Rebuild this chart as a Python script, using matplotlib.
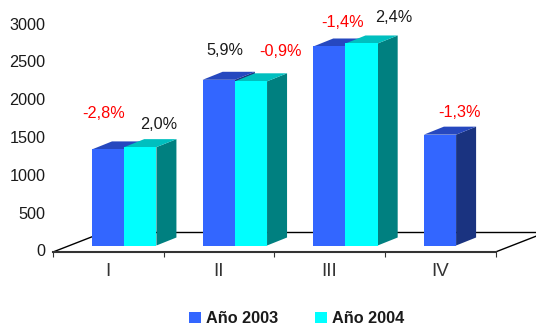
import numpy as np
import matplotlib
matplotlib.use('Agg')
from matplotlib import pyplot as plt
from matplotlib.patches import Polygon, Patch

quarters = ['I', 'II', 'III', 'IV']
yticks = [0, 500, 1000, 1500, 2000, 2500, 3000]
vals_2003 = [1270, 2190, 2630, 1465]
vals_2004 = [1300, 2170, 2670]
lab_2003 = ['-2,8%', '5,9%', '-1,4%', '-1,3%']
lab_2004 = ['2,0%', '-0,9%', '2,4%']

plt.rcParams['font.family'] = ['Liberation Sans', 'DejaVu Sans']
FS = 11.7
W, H = 536, 325

fig = plt.figure(figsize=(W / 100, H / 100), dpi=100)
# axes runs from the floor corner to the front right corner, pixel layout
ax = fig.add_axes([53 / W, 1 - 252 / H, 442.5 / W, 229 / H])
ypx = 227 / 3000  # pixels per unit
xpx = 110.6       # pixels per category
ax.set_xlim(0, 4)
ax.set_ylim(-1.5 / ypx, 227.5 / ypx)

dx = 20 / xpx
dy = 8 / ypx
base = 5 / ypx
bar_w = 32.2 / xpx
start = 39 / xpx


def bar3d(x, val, front, top, side):
    y0 = base
    y1 = base + val
    ax.add_patch(Polygon([(x + bar_w, y0), (x + bar_w + dx, y0 + dy), (x + bar_w + dx, y1 + dy), (x + bar_w, y1)],
                         fc=side, ec='none', clip_on=False, zorder=3))
    ax.add_patch(Polygon([(x, y1), (x + dx, y1 + dy), (x + bar_w + dx, y1 + dy), (x + bar_w, y1)],
                         fc=top, ec='none', clip_on=False, zorder=3))
    ax.add_patch(Polygon([(x, y0), (x + bar_w, y0), (x + bar_w, y1), (x, y1)],
                         fc=front, ec='none', clip_on=False, zorder=4))


# floor lines
fd_x = 50 / xpx
fd_y = 19.5 / ypx
floor = ax.get_ylim()[0]
ax.plot([0, fd_x, 4 + fd_x], [floor, floor + fd_y, floor + fd_y], color='black', lw=1, clip_on=False, zorder=1)
ax.plot([4, 4 + fd_x], [floor, floor + fd_y], color='black', lw=1, clip_on=False, zorder=1)

for i, v in enumerate(vals_2003):
    bar3d(i + start, v, '#3366FF', '#2648BF', '#1A3380')
for i, v in enumerate(vals_2004):
    bar3d(i + start + bar_w, v, '#00FFFF', '#00BFBF', '#008080')

# percentage labels, offset in points from the top of each bar
off_2003 = [(-3, 26), (4.5, 21), (9.6, 17), (14.4, 16)]
off_2004 = [(13.5, 16), (21.5, 21.5), (23.4, 18.5)]
for i, v in enumerate(vals_2003):
    col = 'red' if lab_2003[i].startswith('-') else '#1a1a1a'
    ax.annotate(lab_2003[i], (i + start + bar_w / 2, base + v), xytext=off_2003[i], textcoords='offset points',
                ha='center', va='center', color=col, fontsize=FS, annotation_clip=False, zorder=5)
for i, v in enumerate(vals_2004):
    col = 'red' if lab_2004[i].startswith('-') else '#1a1a1a'
    ax.annotate(lab_2004[i], (i + start + bar_w * 1.5, base + v), xytext=off_2004[i], textcoords='offset points',
                ha='center', va='center', color=col, fontsize=FS, annotation_clip=False, zorder=5)

for s in ['top', 'right', 'left']:
    ax.spines[s].set_visible(False)
ax.spines['bottom'].set_linewidth(1.5)
ax.spines['bottom'].set_color('#333333')

ax.set_yticks(yticks)
ax.tick_params(axis='y', length=0, pad=5.5, labelsize=FS, labelcolor='#1a1a1a')
ax.set_xticks(range(5))
ax.set_xticklabels([])
ax.set_xticks(np.arange(4) + 0.5, quarters, minor=True)
ax.tick_params(axis='x', which='major', length=3.5, width=0.8, color='#333333')
ax.tick_params(axis='x', which='minor', length=0, pad=8, labelsize=13.5, labelcolor='#333333')

handles = [Patch(fc='#3366FF', label='Año 2003'), Patch(fc='#00FFFF', label='Año 2004')]
fig.legend(handles=handles, loc='center', bbox_to_anchor=(296.5 / W, 1 - 318.5 / H), ncol=2, frameon=False,
           prop={'size': FS, 'weight': 'bold'}, handlelength=0.72, handleheight=0.72, handletextpad=0.3,
           columnspacing=2.3, borderpad=0, labelcolor='#1a1a1a')

fig.savefig('out.png', dpi=100)
